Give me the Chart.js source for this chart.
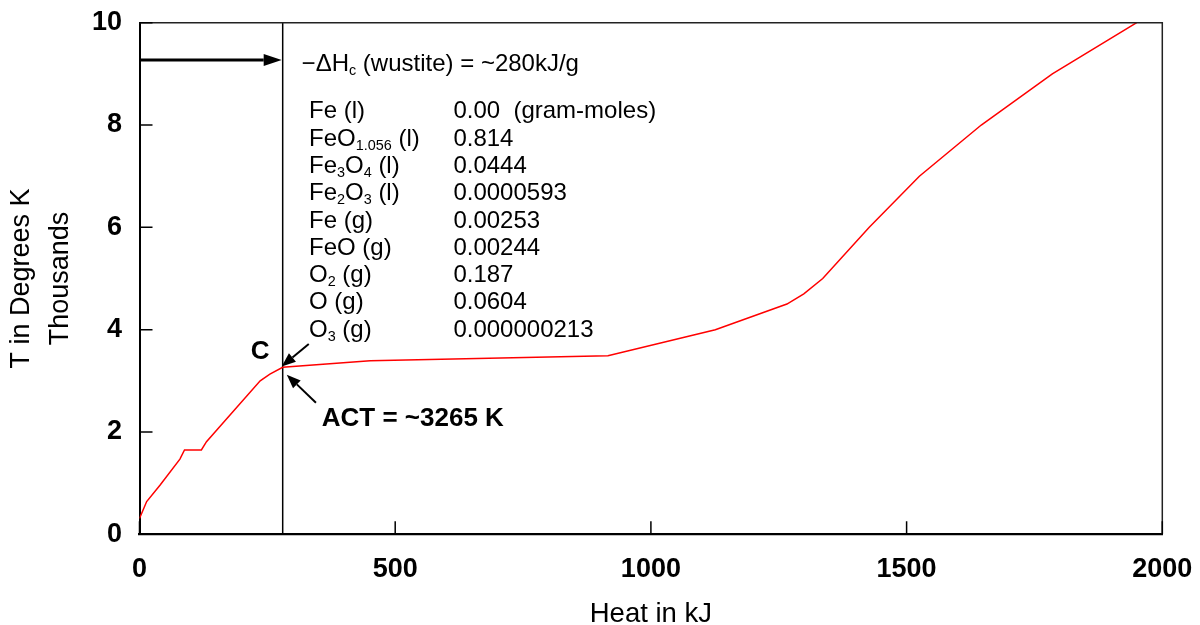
<!DOCTYPE html>
<html>
<head>
<meta charset="utf-8">
<script src="https://cdn.jsdelivr.net/npm/chart.js@4.4.0/dist/chart.umd.min.js"></script>
<style>
  html, body { margin: 0; padding: 0; background: #fff; }
  #wrap { width: 1200px; height: 625px; }
</style>
</head>
<body>
<div id="wrap"><canvas id="myChart" width="1200" height="625"></canvas></div>
<script>
// heating curve: heat added (kJ) vs temperature (thousands of K)
const heatKJ = [0, 14, 40, 79, 88, 121, 131, 177, 236, 255, 280, 451, 916, 1126, 1266, 1299, 1336, 1427, 1525, 1646, 1785, 1950];
const tempK  = [0.31, 0.64, 0.96, 1.47, 1.65, 1.65, 1.81, 2.33, 3.0, 3.13, 3.265, 3.39, 3.49, 4.0, 4.5, 4.7, 5.0, 6.0, 7.0, 8.0, 9.0, 10.0];

const xTicks = [0, 500, 1000, 1500, 2000];
const yTicks = [0, 2, 4, 6, 8, 10];

const combustionKJ = 280;
const combustionLabel = '\u2212\u0394H_{c} (wustite) = ~280kJ/g';
const pointLabel = 'C';
const actLabel = 'ACT = ~3265 K';

// equilibrium composition at point C
const species = ['Fe (l)', 'FeO_{1.056} (l)', 'Fe_{3}O_{4} (l)', 'Fe_{2}O_{3} (l)', 'Fe (g)', 'FeO (g)', 'O_{2} (g)', 'O (g)', 'O_{3} (g)'];
const moles = ['0.00  (gram-moles)', '0.814', '0.0444', '0.0000593', '0.00253', '0.00244', '0.187', '0.0604', '0.000000213'];

const FONT = "'Liberation Sans', Arial, Helvetica, sans-serif";

// text with _{...} subscripts, drawn from a left baseline point
function drawRich(ctx, str, x, y, size, weight) {
  const parts = str.split(/(_\{[^}]*\})/).filter(Boolean);
  ctx.textAlign = 'left';
  ctx.textBaseline = 'alphabetic';
  for (const p of parts) {
    const sub = p.startsWith('_{');
    const t = sub ? p.slice(2, -1) : p;
    const s = sub ? size * 0.6 : size;
    ctx.font = `${weight} ${s}px ${FONT}`;
    ctx.fillText(t, x, sub ? y + size * 0.16 : y);
    x += ctx.measureText(t).width;
  }
}

function arrow(ctx, x0, y0, x1, y1, width, headLen, headHalf) {
  const ang = Math.atan2(y1 - y0, x1 - x0);
  const bx = x1 - Math.cos(ang) * headLen, by = y1 - Math.sin(ang) * headLen;
  ctx.lineWidth = width;
  ctx.beginPath();
  ctx.moveTo(x0, y0);
  ctx.lineTo(bx, by);
  ctx.stroke();
  ctx.beginPath();
  ctx.moveTo(x1, y1);
  ctx.lineTo(bx + Math.sin(ang) * headHalf, by - Math.cos(ang) * headHalf);
  ctx.lineTo(bx - Math.sin(ang) * headHalf, by + Math.cos(ang) * headHalf);
  ctx.closePath();
  ctx.fill();
}

// no extra room for overhanging tick labels; the layout padding decides the plot box
function noOverhang(s) {
  s.paddingTop = 0;
  s.paddingBottom = 0;
  s.paddingLeft = 0;
  s.paddingRight = 0;
}

const overlay = {
  id: 'overlay',
  afterDatasetsDraw(chart) {
    const {ctx, chartArea: a, scales: {x, y}} = chart;
    const px = v => x.getPixelForValue(v);
    const py = v => y.getPixelForValue(v);
    ctx.save();

    // top and right frame
    ctx.strokeStyle = '#222';
    ctx.lineWidth = 1.5;
    ctx.beginPath();
    ctx.moveTo(a.left, a.top);
    ctx.lineTo(a.right, a.top);
    ctx.lineTo(a.right, a.bottom);
    ctx.stroke();

    // inward tick marks
    ctx.strokeStyle = '#000';
    ctx.lineWidth = 1.5;
    ctx.beginPath();
    yTicks.forEach(v => { ctx.moveTo(a.left, py(v)); ctx.lineTo(a.left + 13, py(v)); });
    xTicks.forEach(v => { ctx.moveTo(px(v), a.bottom); ctx.lineTo(px(v), a.bottom - 13); });
    ctx.stroke();

    // arrows
    ctx.fillStyle = '#000';
    arrow(ctx, px(0), py(9.27), px(combustionKJ) - 1, py(9.27), 3, 18, 6);
    arrow(ctx, px(331), py(3.72), px(278), py(3.28), 2, 14, 5.5);
    arrow(ctx, px(345), py(2.57), px(288), py(3.12), 2, 14, 5.5);

    // labels
    drawRich(ctx, combustionLabel, px(317), py(9.05), 24, 'normal');
    const rowTop = py(8.13);
    species.forEach((s, i) => {
      drawRich(ctx, s, px(331.5), rowTop + i * 27.3, 24, 'normal');
      drawRich(ctx, moles[i], px(613.8), rowTop + i * 27.3, 24, 'normal');
    });
    ctx.font = `bold 26px ${FONT}`;
    ctx.textAlign = 'center';
    ctx.textBaseline = 'alphabetic';
    ctx.fillText(pointLabel, px(235.7), py(3.42));
    drawRich(ctx, actLabel, px(356.4), py(2.123), 26, 'bold');

    ctx.restore();
  }
};

new Chart(document.getElementById('myChart'), {
  type: 'scatter',
  data: {
    datasets: [
      {
        data: heatKJ.map((v, i) => ({x: v, y: tempK[i]})),
        showLine: true,
        borderColor: '#ff0000',
        borderWidth: 1.5,
        pointRadius: 0,
        tension: 0
      },
      {
        data: [{x: combustionKJ, y: 0}, {x: combustionKJ, y: 10}],
        showLine: true,
        borderColor: '#000',
        borderWidth: 1.5,
        pointRadius: 0
      }
    ]
  },
  options: {
    responsive: false,
    animation: false,
    devicePixelRatio: 1,
    layout: { padding: { top: 22.7, right: 37.7, left: 0, bottom: 0 } },
    plugins: { legend: { display: false }, tooltip: { enabled: false } },
    scales: {
      x: {
        type: 'linear',
        min: 0,
        max: 2000,
        afterBuildTicks: s => { s.ticks = xTicks.map(v => ({value: v})); },
        afterFit: s => { s.height = 90.7; noOverhang(s); },
        grid: { display: false, drawTicks: false },
        border: { display: true, color: '#000', width: 2.3 },
        ticks: {
          color: '#000',
          padding: 19.5,
          maxRotation: 0,
          callback: v => String(v),
          font: { family: FONT, size: 27, weight: 'bold', lineHeight: 1.2 }
        },
        title: {
          display: true,
          text: 'Heat in kJ',
          color: '#000',
          padding: { top: 0, bottom: 0 },
          font: { family: FONT, size: 27.5, lineHeight: 0.77 }
        }
      },
      y: {
        type: 'linear',
        min: 0,
        max: 10,
        afterBuildTicks: s => { s.ticks = yTicks.map(v => ({value: v})); },
        afterFit: s => { s.width = 139.5; noOverhang(s); },
        grid: { display: false, drawTicks: false },
        border: { display: true, color: '#000', width: 2 },
        ticks: {
          color: '#000',
          padding: 17.5,
          callback: v => String(v),
          font: { family: FONT, size: 27, weight: 'bold', lineHeight: 1.2 }
        },
        title: {
          display: true,
          text: ['T in Degrees K', 'Thousands'],
          color: '#000',
          padding: { top: 2.5, bottom: 0 },
          font: { family: FONT, size: 27, lineHeight: 1.44 }
        }
      }
    }
  },
  plugins: [overlay]
});
</script>
</body>
</html>
